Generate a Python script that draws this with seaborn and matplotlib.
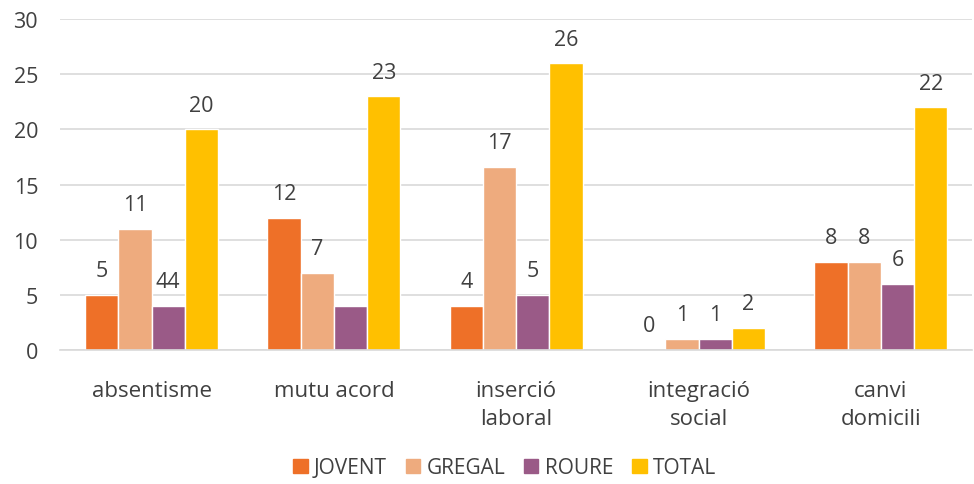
import numpy as np
import pandas as pd
import matplotlib
matplotlib.use("Agg")
import matplotlib.pyplot as plt
import seaborn as sns

# Data
categories = ["absentisme", "mutu acord", "inserció\nlaboral", "integració\nsocial", "canvi\ndomicili"]
series = ["JOVENT", "GREGAL", "ROURE", "TOTAL"]
jovent = [5, 12, 4, 0, 8]
gregal = [11, 7, 16.6, 1, 8]
roure = [4, 4, 5, 1, 6]
total = [20, 23, 26, 2, 22]
# data labels as shown on the chart (one missing, one doubled)
label_text = {
    "JOVENT": ["5", "12", "4", "0", "8"],
    "GREGAL": ["11", "7", "17", "1", "8"],
    "ROURE": ["44", "", "5", "1", "6"],
    "TOTAL": ["20", "23", "26", "2", "22"],
}
colors = ["#EE7028", "#EEAB7E", "#9A5A87", "#FFC000"]
yticks = [0, 5, 10, 15, 20, 25, 30]

df = pd.DataFrame({"category": categories * 4,
                   "series": np.repeat(series, len(categories)),
                   "value": jovent + gregal + roure + total})

sns.set_theme(style="white")
plt.rcParams["font.family"] = ["Open Sans", "DejaVu Sans"]

fig, ax = plt.subplots(figsize=(9.74, 4.85), dpi=100)
fig.subplots_adjust(left=0.062, right=0.998, top=0.958, bottom=0.277)

sns.barplot(data=df, x="category", y="value", hue="series", palette=colors,
            width=0.73, saturation=1, ax=ax, legend=False)

text_col = "#404040"
for container, name in zip(ax.containers, series):
    for bar, txt in zip(container, label_text[name]):
        if not txt:
            continue
        ax.annotate(txt, (bar.get_x() + bar.get_width() / 2, bar.get_height()),
                    textcoords="offset points", xytext=(0, 10),
                    ha="center", va="bottom", fontsize=15.5, color=text_col)

ax.set_ylim(0, 30)
ax.set_yticks(yticks)
ax.yaxis.grid(True, color="#D9D9D9", linewidth=1.2)
ax.set_axisbelow(True)
for s in ["top", "right", "left"]:
    ax.spines[s].set_visible(False)
ax.spines["bottom"].set_color("#D9D9D9")
ax.spines["bottom"].set_linewidth(1.2)
ax.set_xlabel("")
ax.set_ylabel("")
ax.tick_params(axis="both", length=0, labelsize=15.5, colors=text_col)
ax.tick_params(axis="x", labelsize=16, pad=22)
ax.tick_params(axis="y", pad=16)
for lbl in ax.get_xticklabels():
    lbl.set_linespacing(1.45)

handles = [plt.Rectangle((0, 0), 1, 1, color=c) for c in colors]
leg = fig.legend(handles, series, loc="center", bbox_to_anchor=(0.518, 0.033),
                 ncol=4, frameon=False, fontsize=15, handlelength=0.7,
                 handleheight=0.7, handletextpad=0.3, columnspacing=0.9)
for t in leg.get_texts():
    t.set_color(text_col)

fig.savefig("out.png", dpi=100)
